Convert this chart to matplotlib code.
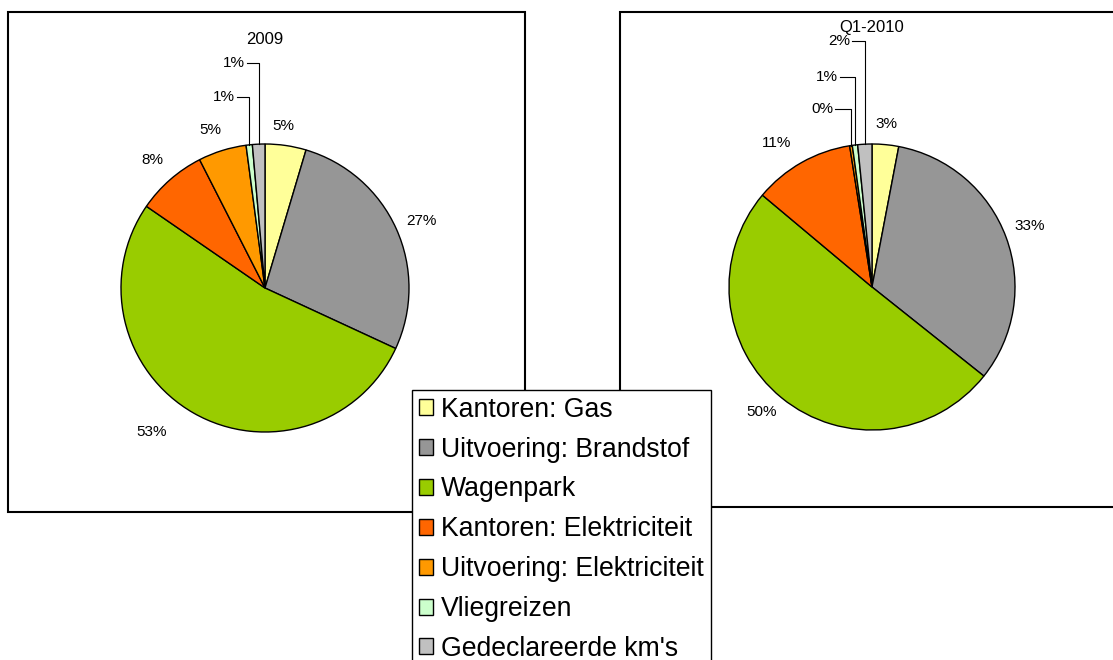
import matplotlib
matplotlib.use("Agg")
import matplotlib.pyplot as plt
import numpy as np
from matplotlib.patches import Patch, Rectangle

plt.rcParams["font.family"] = ["Liberation Sans", "DejaVu Sans"]

categories = ["Kantoren: Gas", "Uitvoering: Brandstof", "Wagenpark",
              "Kantoren: Elektriciteit", "Uitvoering: Elektriciteit",
              "Vliegreizen", "Gedeclareerde km's"]
colors = ["#FFFF99", "#969696", "#99CC00", "#FF6600", "#FF9900", "#CCFFCC", "#C0C0C0"]

title_2009 = "2009"
values_2009 = [4.6, 27.3, 52.7, 7.9, 5.4, 0.7, 1.4]
title_2010 = "Q1-2010"
values_2010 = [3.0, 32.7, 50.4, 11.4, 0.3, 0.6, 1.6]

W, H = 1113, 660

# label placement in pie units: (x, y, leader?) per slice
layout_2009 = [(0.125, 1.125, False), (1.083, 0.465, False), (-0.785, -1.0, False),
               (-0.785, 0.889, False), (-0.382, 1.097, False),
               (-0.208, 1.326, True), (-0.139, 1.563, True)]
layout_2010 = [(0.098, 1.14, False), (1.105, 0.427, False), (-0.769, -0.874, False),
               (-0.664, 1.007, False), (-0.273, 1.245, True),
               (-0.238, 1.469, True), (-0.154, 1.72, True)]


def px_axes(fig, cx, cy, r):
    return fig.add_axes([(cx - r) / W, 1 - (cy + r) / H, 2 * r / W, 2 * r / H])


def draw_pie(ax, values, title, layout, title_y):
    ax.pie(values, colors=colors, startangle=90, counterclock=False, radius=1,
           wedgeprops=dict(edgecolor="black", linewidth=1))
    ax.set_xlim(-1, 1)
    ax.set_ylim(-1, 1)
    ax.axis("off")
    total = sum(values)
    cum = np.cumsum(values) - np.array(values) / 2
    for v, c, (lx, ly, leader) in zip(values, cum, layout):
        txt = f"{round(v / total * 100):.0f}%"
        if leader:
            ang = np.deg2rad(c / total * 360)
            xl = np.sin(ang)
            ax.text(lx, ly, txt, ha="right", va="center", fontsize=11, clip_on=False)
            ax.plot([lx + 0.015, xl, xl], [ly, ly, np.sqrt(1 - xl ** 2)],
                    color="black", lw=0.8, clip_on=False)
        else:
            ax.text(lx, ly, txt, ha="center", va="center", fontsize=11, clip_on=False)
    ax.text(0, title_y, title, ha="center", va="center", fontsize=12, clip_on=False)


fig = plt.figure(figsize=(W / 100, H / 100), dpi=100)

# chart area frames
fig.patches.append(Rectangle((8 / W, 1 - 512 / H), 517 / W, 500 / H, transform=fig.transFigure,
                             fill=False, edgecolor="black", lw=1.5))
fig.patches.append(Rectangle((620 / W, 1 - 507 / H), 520 / W, 495 / H, transform=fig.transFigure,
                             fill=False, edgecolor="black", lw=1.5))

ax1 = px_axes(fig, 265, 288, 144)
draw_pie(ax1, values_2009, title_2009, layout_2009, 1.729)
ax2 = px_axes(fig, 872, 287, 143)
draw_pie(ax2, values_2010, title_2010, layout_2010, 1.818)

handles = [Patch(facecolor=c, edgecolor="black", lw=1) for c in colors]
leg = fig.legend(handles, categories, loc="upper left",
                 bbox_to_anchor=(412 / W, 1 - 390 / H), fontsize=19.2,
                 frameon=True, fancybox=False, framealpha=1, edgecolor="black",
                 handlelength=0.55, handleheight=0.55, handletextpad=0.3,
                 labelspacing=0.52, borderpad=0.25, borderaxespad=0)
leg.get_frame().set_linewidth(1)
leg.set_zorder(10)

fig.savefig("out.png", dpi=100)
